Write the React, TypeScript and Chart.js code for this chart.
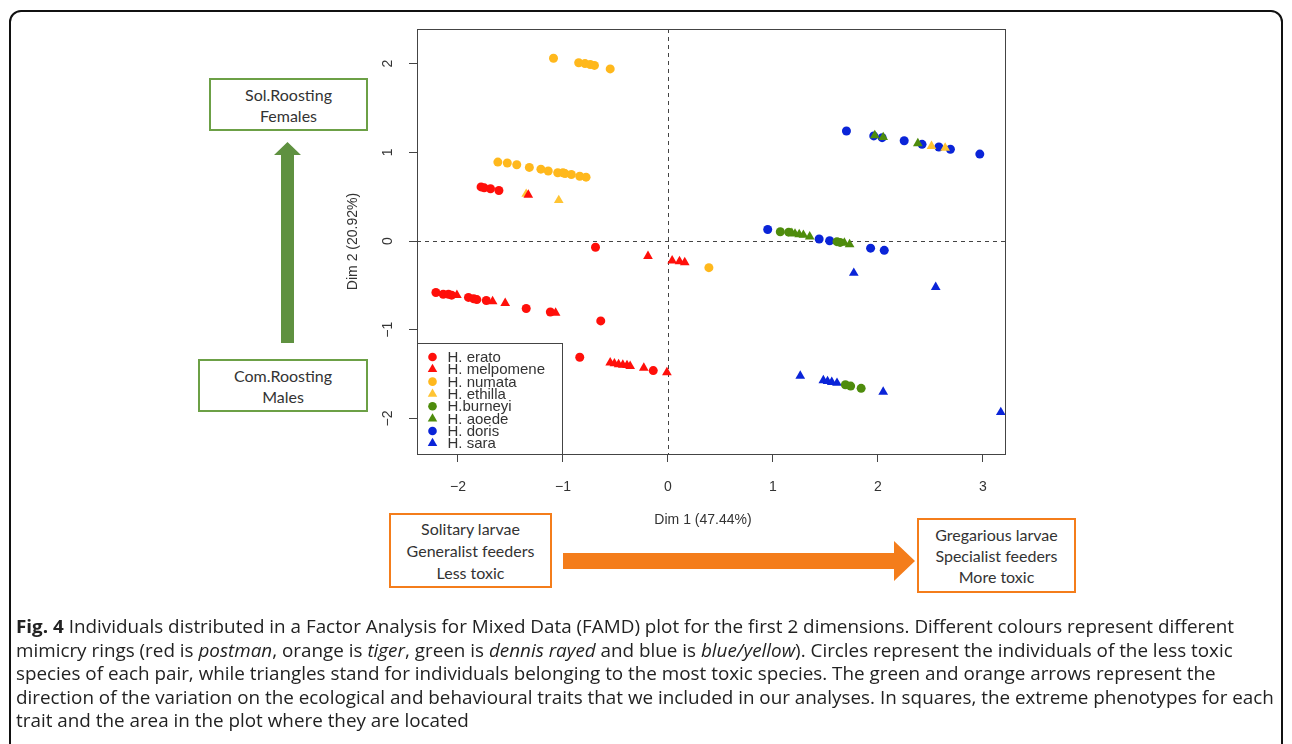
import React, { useEffect, useLayoutEffect, useRef, useState } from "react";
import { Chart, registerables } from "chart.js";
Chart.register(...registerables);

// ---------- data ----------
const speciesNames = ["H. erato", "H. melpomene", "H. numata", "H. ethilla", "H.burneyi", "H. aoede", "H. doris", "H. sara"];
const speciesColors = ["#FF0F0A", "#FF0F0A", "#FFB81C", "#FFC433", "#4E8C0C", "#4E8C0C", "#0A24D8", "#0A24D8"];
const speciesShapes = ["circle", "triangle", "circle", "triangle", "circle", "triangle", "circle", "triangle"];

const eratoX = [-1.78, -1.75, -1.69, -1.61, -0.69, -2.21, -2.14, -2.09, -2.06, -1.90, -1.85, -1.82, -1.73, -1.35, -1.12, -0.64, -0.84, -0.14];
const eratoY = [0.61, 0.60, 0.59, 0.57, -0.07, -0.58, -0.60, -0.60, -0.61, -0.635, -0.65, -0.66, -0.67, -0.76, -0.80, -0.90, -1.31, -1.46];

const melpomeneX = [-1.33, -0.19, 0.04, 0.11, 0.16, -2.01, -1.67, -1.55, -1.07, -0.55, -0.51, -0.47, -0.43, -0.39, -0.36, -0.23, -0.01];
const melpomeneY = [0.52, -0.17, -0.22, -0.23, -0.24, -0.61, -0.68, -0.70, -0.81, -1.37, -1.38, -1.39, -1.395, -1.40, -1.41, -1.43, -1.48];

const numataX = [-1.09, -0.85, -0.79, -0.74, -0.70, -0.55, -1.62, -1.53, -1.44, -1.32, -1.21, -1.14, -1.05, -1.00, -0.98, -0.92, -0.84, -0.78, 0.39];
const numataY = [2.06, 2.01, 2.00, 1.99, 1.98, 1.94, 0.89, 0.88, 0.86, 0.83, 0.81, 0.79, 0.77, 0.77, 0.76, 0.75, 0.73, 0.72, -0.30];

const ethillaX = [-1.35, -1.04, 2.51, 2.64];
const ethillaY = [0.53, 0.46, 1.07, 1.05];

const burneyiX = [1.07, 1.15, 1.61, 1.64, 1.69, 1.74, 1.84];
const burneyiY = [0.105, 0.10, -0.007, -0.015, -1.62, -1.635, -1.66];

const aoedeX = [1.97, 2.05, 2.38, 1.18, 1.21, 1.25, 1.29, 1.35, 1.68, 1.73];
const aoedeY = [1.19, 1.17, 1.10, 0.09, 0.082, 0.075, 0.068, 0.049, -0.02, -0.037];

const dorisX = [1.70, 1.96, 2.04, 2.25, 2.42, 2.58, 2.69, 2.97, 0.95, 1.44, 1.54, 1.93, 2.06];
const dorisY = [1.24, 1.185, 1.165, 1.13, 1.09, 1.06, 1.035, 0.98, 0.13, 0.023, 0.004, -0.08, -0.105];

const saraX = [1.77, 2.55, 1.26, 1.48, 1.52, 1.56, 1.61, 2.05, 3.17];
const saraY = [-0.36, -0.52, -1.52, -1.57, -1.58, -1.59, -1.60, -1.70, -1.93];

const speciesX = [eratoX, melpomeneX, numataX, ethillaX, burneyiX, aoedeX, dorisX, saraX];
const speciesY = [eratoY, melpomeneY, numataY, ethillaY, burneyiY, aoedeY, dorisY, saraY];

const xTicks = [-2, -1, 0, 1, 2, 3];
const yTicks = [-2, -1, 0, 1, 2];
const xLimits = [-2.39, 3.21];
const yLimits = [-2.40, 2.39];
const xTitle = "Dim 1 (47.44%)";
const yTitle = "Dim 2 (20.92%)";

const AXIS_FONT = "14px 'Liberation Sans', Arial, sans-serif";
const INK = "#333";

const minus = (v: number) => String(v).replace("-", "\u2212");

const overlayPlugin = {
  id: "rOverlay",
  beforeDatasetsDraw(chart: any) {
    const { ctx, chartArea: a, scales } = chart;
    ctx.save();
    ctx.strokeStyle = "#444";
    ctx.lineWidth = 1;
    ctx.setLineDash([4, 4]);
    const x0 = Math.round(scales.x.getPixelForValue(0)) + 0.5;
    const y0 = Math.round(scales.y.getPixelForValue(0)) + 0.5;
    ctx.beginPath();
    ctx.moveTo(x0, a.top);
    ctx.lineTo(x0, a.bottom);
    ctx.moveTo(a.left, y0);
    ctx.lineTo(a.right, y0);
    ctx.stroke();
    ctx.restore();
  },
  afterDraw(chart: any) {
    const { ctx, chartArea: a, scales } = chart;
    ctx.save();
    // plot box
    ctx.strokeStyle = "#444";
    ctx.lineWidth = 1;
    ctx.strokeRect(Math.round(a.left) + 0.5, Math.round(a.top) + 0.5, Math.round(a.width), Math.round(a.height));

    // y tick labels, rotated like R
    ctx.fillStyle = INK;
    ctx.font = AXIS_FONT;
    ctx.textAlign = "center";
    ctx.textBaseline = "middle";
    yTicks.forEach((v) => {
      const py = scales.y.getPixelForValue(v);
      ctx.save();
      ctx.translate(a.left - 29, py);
      ctx.rotate(-Math.PI / 2);
      ctx.fillText(minus(v), 0, 0);
      ctx.restore();
    });
    // axis titles
    ctx.fillText(xTitle, (a.left + a.right) / 2 - 8, a.bottom + 66);
    ctx.save();
    ctx.translate(a.left - 64, (a.top + a.bottom) / 2);
    ctx.rotate(-Math.PI / 2);
    ctx.fillText(yTitle, 0, 0);
    ctx.restore();

    // legend box at bottom-left
    const lw = 145;
    const lh = 111;
    const lx = Math.round(a.left) + 0.5;
    const ly = Math.round(a.bottom - lh) + 0.5;
    ctx.fillStyle = "#fff";
    ctx.fillRect(lx, ly, lw, lh);
    ctx.strokeStyle = "#444";
    ctx.strokeRect(lx, ly, lw, lh);
    ctx.font = "15px 'Liberation Sans', Arial, sans-serif";
    ctx.textAlign = "left";
    ctx.textBaseline = "middle";
    chart.data.datasets.forEach((ds: any, i: number) => {
      const cy = ly + 13.5 + i * 12.33;
      const cx = lx + 15;
      ctx.fillStyle = ds.backgroundColor;
      ctx.beginPath();
      if (ds.pointStyle === "triangle") {
        const r = 5.5;
        ctx.moveTo(cx, cy - r);
        ctx.lineTo(cx + r * 0.866, cy + r * 0.5);
        ctx.lineTo(cx - r * 0.866, cy + r * 0.5);
        ctx.closePath();
      } else {
        ctx.arc(cx, cy, 4.3, 0, Math.PI * 2);
      }
      ctx.fill();
      ctx.fillStyle = INK;
      ctx.fillText(ds.label, lx + 30, cy + 1);
    });
    ctx.restore();
  },
};

function FamdChart() {
  const ref = useRef<HTMLCanvasElement>(null);
  useEffect(() => {
    if (!ref.current) return;
    const datasets = speciesNames.map((name, i) => ({
      label: name,
      data: speciesX[i].map((x, j) => ({ x, y: speciesY[i][j] })),
      backgroundColor: speciesColors[i],
      borderColor: speciesColors[i],
      borderWidth: 0,
      pointStyle: speciesShapes[i],
      pointRadius: speciesShapes[i] === "triangle" ? 5.6 : 4.5,
      pointBorderWidth: 0,
    }));
    const chart = new Chart(ref.current, {
      type: "scatter",
      data: { datasets },
      plugins: [overlayPlugin],
      options: {
        animation: false,
        responsive: false,
        events: [],
        layout: { padding: { top: 14, right: 15, left: 0, bottom: 0 } },
        plugins: { legend: { display: false }, tooltip: { enabled: false } },
        scales: {
          x: {
            type: "linear",
            min: xLimits[0],
            max: xLimits[1],
            afterBuildTicks: (s: any) => {
              s.ticks = xTicks.map((v) => ({ value: v }));
            },
            afterFit: (s: any) => {
              s.height = 96;
            },
            border: { display: false },
            grid: { drawOnChartArea: false, drawTicks: true, tickLength: 8, color: "#444", lineWidth: 1 },
            ticks: {
              color: INK,
              font: { family: "'Liberation Sans', Arial, sans-serif", size: 14 },
              padding: 17,
              maxRotation: 0,
              callback: (v: any) => minus(Number(v)),
            },
          },
          y: {
            type: "linear",
            min: yLimits[0],
            max: yLimits[1],
            afterBuildTicks: (s: any) => {
              s.ticks = yTicks.map((v) => ({ value: v }));
            },
            afterFit: (s: any) => {
              s.width = 87;
            },
            border: { display: false },
            grid: { drawOnChartArea: false, drawTicks: true, tickLength: 8, color: "#444", lineWidth: 1 },
            ticks: { display: false },
          },
        },
      } as any,
    });
    return () => chart.destroy();
  }, []);
  return <canvas ref={ref} width={690} height={535} style={{ width: 690, height: 535, display: "block" }} />;
}

const boxText: React.CSSProperties = {
  position: "absolute",
  boxSizing: "border-box",
  background: "#fff",
  fontFamily: "Lato, 'Open Sans', sans-serif",
  fontSize: 16,
  color: "#333",
  textAlign: "center",
  display: "flex",
  flexDirection: "column",
  justifyContent: "center",
};

export default function App() {
  const capRef = useRef<HTMLSpanElement>(null);
  const [capScale, setCapScale] = useState(1);
  useLayoutEffect(() => {
    const measure = () => {
      const el = capRef.current;
      if (el && el.offsetWidth > 0) setCapScale(1218 / el.offsetWidth);
    };
    measure();
    if ((document as any).fonts) (document as any).fonts.ready.then(measure);
  }, []);

  const capLine: React.CSSProperties = { whiteSpace: "nowrap", height: 23.6, lineHeight: "23.6px" };

  return (
    <div style={{ position: "absolute", left: 0, top: 0, width: 1292, height: 744, overflow: "hidden", background: "#fff" }}>
      {/* outer frame */}
      <div
        style={{
          position: "absolute",
          left: 9,
          top: 10,
          width: 1274,
          height: 800,
          border: "2px solid #111",
          borderRadius: 12,
          boxSizing: "border-box",
        }}
      />
      {/* chart */}
      <div style={{ position: "absolute", left: 330, top: 15, width: 690, height: 535 }}>
        <FamdChart />
      </div>

      {/* vertical green annotation */}
      <div style={{ ...boxText, left: 209, top: 78, width: 159, height: 53, border: "2px solid #6CA046", lineHeight: "21px" }}>
        <div>Sol.Roosting</div>
        <div>Females</div>
      </div>
      <div style={{ ...boxText, left: 198, top: 359, width: 170, height: 53, border: "2px solid #6CA046", lineHeight: "21px" }}>
        <div>Com.Roosting</div>
        <div>Males</div>
      </div>
      <svg style={{ position: "absolute", left: 0, top: 0 }} width={1292} height={744}>
        <polygon points="281,343 294,343 294,155 301,155 287.5,142 274,155 281,155" fill="#5F9140" />
        <polygon points="563,553 894,553 894,541 915,561 894,581 894,569 563,569" fill="#F47D1B" />
      </svg>

      {/* horizontal orange annotation */}
      <div style={{ ...boxText, left: 389, top: 513, width: 163, height: 75, border: "2px solid #F47D1B", lineHeight: "22px" }}>
        <div>Solitary larvae</div>
        <div>Generalist feeders</div>
        <div>Less toxic</div>
      </div>
      <div style={{ ...boxText, left: 917, top: 518, width: 159, height: 75, border: "2px solid #F47D1B", lineHeight: "21px" }}>
        <div>Gregarious larvae</div>
        <div>Specialist feeders</div>
        <div>More toxic</div>
      </div>

      {/* caption */}
      <div
        style={{
          position: "absolute",
          left: 16,
          top: 614,
          fontFamily: "'Open Sans', sans-serif",
          fontSize: 18.5,
          color: "#222",
          transform: `scaleX(${capScale})`,
          transformOrigin: "left top",
        }}
      >
        <div style={capLine}>
          <span ref={capRef} style={{ display: "inline-block" }}>
            <b>Fig. 4</b> Individuals distributed in a Factor Analysis for Mixed Data (FAMD) plot for the first 2 dimensions. Different colours represent different
          </span>
        </div>
        <div style={capLine}>
          mimicry rings (red is <i>postman</i>, orange is <i>tiger</i>, green is <i>dennis rayed</i> and blue is <i>blue/yellow</i>). Circles represent the individuals of the less toxic
        </div>
        <div style={capLine}>
          species of each pair, while triangles stand for individuals belonging to the most toxic species. The green and orange arrows represent the
        </div>
        <div style={capLine}>
          direction of the variation on the ecological and behavioural traits that we included in our analyses. In squares, the extreme phenotypes for each
        </div>
        <div style={capLine}>trait and the area in the plot where they are located</div>
      </div>
    </div>
  );
}
